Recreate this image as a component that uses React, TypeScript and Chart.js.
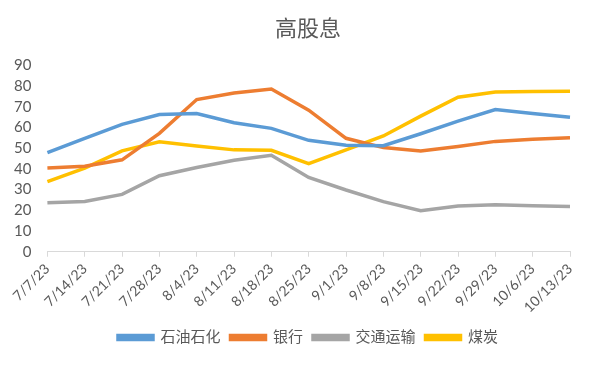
import React, { useEffect, useRef } from "react";
import { Chart, registerables } from "chart.js";

Chart.register(...registerables);

const categories = ["7/7/23","7/14/23","7/21/23","7/28/23","8/4/23","8/11/23","8/18/23","8/25/23","9/1/23","9/8/23","9/15/23","9/22/23","9/29/23","10/6/23","10/13/23"];
const petro = [47.9,54.8,61.5,66.3,66.8,62.3,59.6,53.8,51.4,51.2,57.0,63.1,68.7,66.8,65.0];
const bank = [40.4,41.3,44.4,57.2,73.5,76.7,78.6,68.4,54.8,50.3,48.7,50.8,53.3,54.3,55.1];
const transport = [23.7,24.3,27.7,36.7,40.7,44.2,46.6,35.9,29.8,24.2,19.8,22.1,22.7,22.2,21.8];
const coal = [33.9,40.4,48.7,53.1,51.1,49.2,49.0,42.6,49.2,55.9,65.5,74.6,77.2,77.4,77.5];
const seriesNames = ["石油石化","银行","交通运输","煤炭"];
const yTicks = { min: 0, max: 90, step: 10 };

const FONT = "Lato, 'Noto Sans CJK SC', sans-serif";

export default function App() {
  const ref = useRef<HTMLCanvasElement | null>(null);
  useEffect(() => {
    if (!ref.current) return;
    const colors = ["#5B9BD5", "#ED7D31", "#A5A5A5", "#FFC000"];
    const data = [petro, bank, transport, coal];
    const chart = new Chart(ref.current, {
      type: "line",
      data: {
        labels: categories,
        datasets: seriesNames.map((n, i) => ({
          label: n,
          data: data[i],
          borderColor: colors[i],
          backgroundColor: colors[i],
          borderWidth: 3.5,
          pointRadius: 0,
          tension: 0,
          fill: false,
          yAxisID: "y",
        })),
      },
      options: {
        animation: false,
        responsive: false,
        maintainAspectRatio: false,
        layout: { padding: { left: 6, right: 4, top: 4, bottom: 10 } },
        plugins: {
          title: {
            display: true,
            text: "高股息",
            color: "#595959",
            font: { family: FONT, size: 22, weight: "normal" },
            padding: { top: 12, bottom: 23 },
          },
          legend: {
            position: "bottom",
            labels: {
              color: "#595959",
              font: { family: FONT, size: 15 },
              boxWidth: 35,
              boxHeight: 4,
              padding: 10,
            },
          },
          tooltip: { enabled: false },
        },
        scales: {
          x: {
            offset: false,
            grid: { display: true, drawOnChartArea: false, color: "#D9D9D9", tickLength: 5 },
            border: { color: "#D9D9D9" },
            ticks: {
              color: "#595959",
              font: { family: FONT, size: 14 },
              maxRotation: 45,
              minRotation: 45,
              autoSkip: false,
              padding: 4,
            },
          },
          y: {
            min: yTicks.min,
            max: yTicks.max,
            grid: { display: false },
            border: { display: false },
            ticks: {
              stepSize: yTicks.step,
              autoSkip: false,
              color: "#595959",
              font: { family: FONT, size: 15 },
              padding: 8,
            },
          },
          yRight: {
            position: "right",
            display: true,
            min: 0,
            max: 1,
            grid: { display: false },
            border: { display: false },
            ticks: { display: false },
            afterFit: (s: any) => { s.width = 40; },
          },
        },
      },
    });
    return () => chart.destroy();
  }, []);
  return (
    <div style={{ position: "fixed", left: 0, top: 0, width: 614, height: 365, background: "#fff" }}>
      <canvas ref={ref} width={614} height={365} style={{ width: 614, height: 365 }} />
    </div>
  );
}
